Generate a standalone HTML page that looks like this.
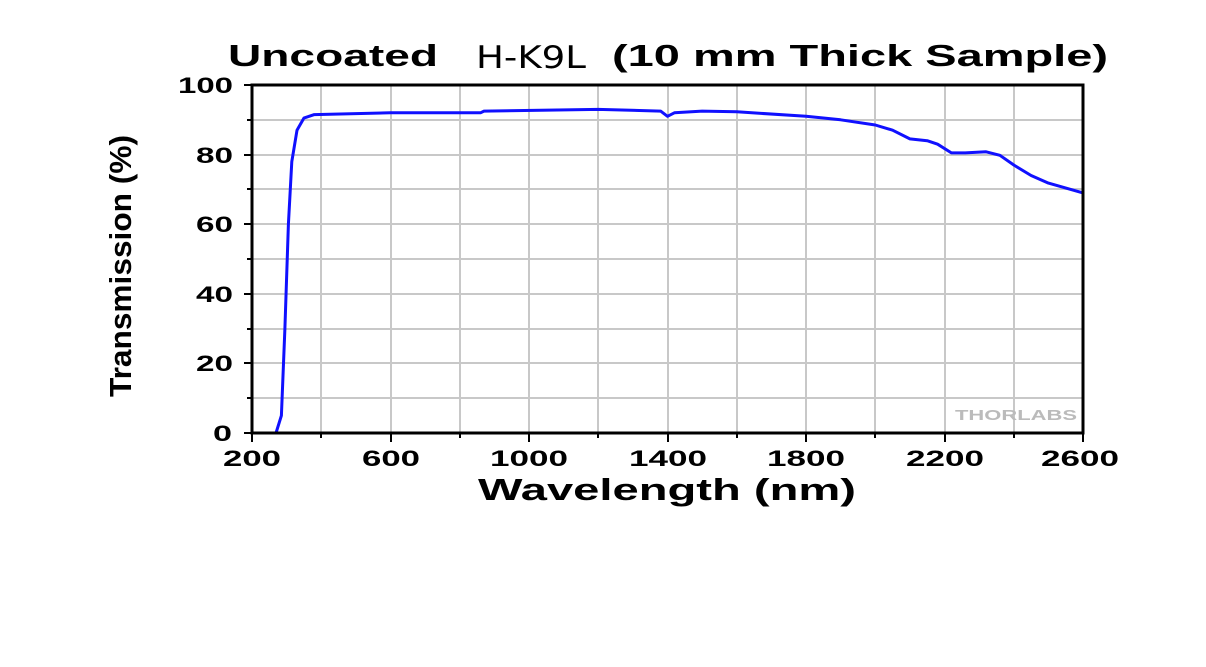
<!DOCTYPE html>
<html><head><style>body{margin:0;background:#fff}</style></head><body>
<svg width="1206" height="662" xmlns="http://www.w3.org/2000/svg" font-family="Liberation Sans, Arial, sans-serif">
<rect width="1206" height="662" fill="#fff"/>
<g stroke="#c8c8c8" stroke-width="2">
<line x1="321" y1="85" x2="321" y2="433"/><line x1="391" y1="85" x2="391" y2="433"/><line x1="460" y1="85" x2="460" y2="433"/><line x1="529" y1="85" x2="529" y2="433"/><line x1="598" y1="85" x2="598" y2="433"/><line x1="668" y1="85" x2="668" y2="433"/><line x1="737" y1="85" x2="737" y2="433"/><line x1="806" y1="85" x2="806" y2="433"/><line x1="875" y1="85" x2="875" y2="433"/><line x1="945" y1="85" x2="945" y2="433"/><line x1="1014" y1="85" x2="1014" y2="433"/>
<line x1="252" y1="120" x2="1083" y2="120"/><line x1="252" y1="155" x2="1083" y2="155"/><line x1="252" y1="189" x2="1083" y2="189"/><line x1="252" y1="224" x2="1083" y2="224"/><line x1="252" y1="259" x2="1083" y2="259"/><line x1="252" y1="294" x2="1083" y2="294"/><line x1="252" y1="329" x2="1083" y2="329"/><line x1="252" y1="363" x2="1083" y2="363"/><line x1="252" y1="398" x2="1083" y2="398"/>
</g>
<text x="955" y="420" font-size="15" font-weight="bold" fill="#bbb" textLength="122" lengthAdjust="spacingAndGlyphs">THORLABS</text>
<polyline fill="none" stroke="#1010ff" stroke-width="3" stroke-linejoin="round" points="252,433 276,433 281.4,415.6 284.9,328.6 288.4,224.2 291.8,161.6 297,130.2 303.9,118.1 314.3,114.6 390.5,112.8 480.5,112.8 484,111.1 598.3,109.4 660.6,111.1 667.5,116.3 674.4,112.8 702.1,111.1 736.8,111.8 806,116.3 840.6,119.8 875.3,125 892.6,130.2 909.9,138.9 927.2,140.7 937.6,144.2 951.4,152.9 965.3,152.9 986.1,151.8 999.9,155.3 1013.8,165 1031.1,175.5 1048.4,183.1 1083,192.9"/>
<rect x="252" y="85" width="831" height="348" fill="none" stroke="#000" stroke-width="3"/>
<g stroke="#000" stroke-width="2">
<line x1="244" y1="85" x2="252" y2="85"/><line x1="244" y1="155" x2="252" y2="155"/><line x1="244" y1="224" x2="252" y2="224"/><line x1="244" y1="294" x2="252" y2="294"/><line x1="244" y1="363" x2="252" y2="363"/><line x1="244" y1="433" x2="252" y2="433"/>
<line x1="247" y1="120" x2="252" y2="120"/><line x1="247" y1="189" x2="252" y2="189"/><line x1="247" y1="259" x2="252" y2="259"/><line x1="247" y1="329" x2="252" y2="329"/><line x1="247" y1="398" x2="252" y2="398"/>
<line x1="252" y1="433" x2="252" y2="442"/><line x1="391" y1="433" x2="391" y2="442"/><line x1="529" y1="433" x2="529" y2="442"/><line x1="668" y1="433" x2="668" y2="442"/><line x1="806" y1="433" x2="806" y2="442"/><line x1="945" y1="433" x2="945" y2="442"/><line x1="1083" y1="433" x2="1083" y2="442"/>
<line x1="321" y1="433" x2="321" y2="438"/><line x1="460" y1="433" x2="460" y2="438"/><line x1="598" y1="433" x2="598" y2="438"/><line x1="737" y1="433" x2="737" y2="438"/><line x1="875" y1="433" x2="875" y2="438"/><line x1="1014" y1="433" x2="1014" y2="438"/>
</g>
<g font-size="22" font-weight="bold" fill="#000">
<text x="178" y="93" textLength="55" lengthAdjust="spacingAndGlyphs">100</text><text x="196" y="163" textLength="37" lengthAdjust="spacingAndGlyphs">80</text><text x="196" y="232" textLength="37" lengthAdjust="spacingAndGlyphs">60</text><text x="196" y="302" textLength="37" lengthAdjust="spacingAndGlyphs">40</text><text x="196" y="371" textLength="37" lengthAdjust="spacingAndGlyphs">20</text><text x="213" y="441" textLength="19" lengthAdjust="spacingAndGlyphs">0</text>
<text x="223" y="466" textLength="58" lengthAdjust="spacingAndGlyphs">200</text><text x="362" y="466" textLength="58" lengthAdjust="spacingAndGlyphs">600</text><text x="490" y="466" textLength="78" lengthAdjust="spacingAndGlyphs">1000</text><text x="629" y="466" textLength="78" lengthAdjust="spacingAndGlyphs">1400</text><text x="767" y="466" textLength="78" lengthAdjust="spacingAndGlyphs">1800</text><text x="906" y="466" textLength="78" lengthAdjust="spacingAndGlyphs">2200</text><text x="1041" y="466" textLength="78" lengthAdjust="spacingAndGlyphs">2600</text>
</g>
<text x="478" y="500" font-size="31" font-weight="bold" textLength="378" lengthAdjust="spacingAndGlyphs">Wavelength (nm)</text>
<text transform="translate(131,397) rotate(-90)" font-size="31" font-weight="bold" textLength="262" lengthAdjust="spacingAndGlyphs">Transmission (%)</text>
<text x="228" y="66" font-size="31" font-weight="bold" textLength="210" lengthAdjust="spacingAndGlyphs">Uncoated</text>
<text x="476" y="68" font-size="31" font-family="DejaVu Sans, sans-serif" textLength="110" lengthAdjust="spacingAndGlyphs">H-K9L</text>
<text x="612" y="66" font-size="31" font-weight="bold" textLength="496" lengthAdjust="spacingAndGlyphs">(10 mm Thick Sample)</text>
</svg>
</body></html>
